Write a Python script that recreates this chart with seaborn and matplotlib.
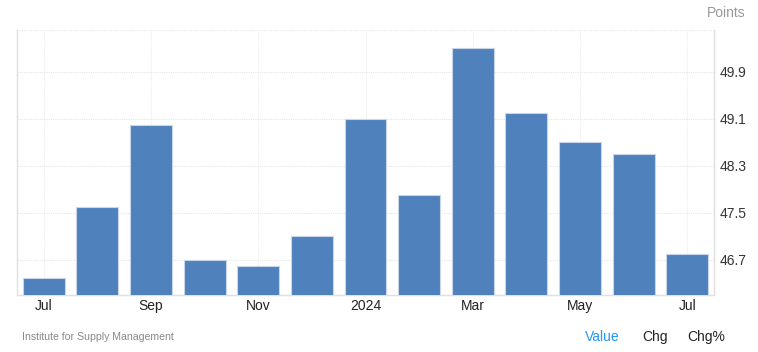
import matplotlib
matplotlib.use("Agg")
import matplotlib.pyplot as plt
import seaborn as sns
import pandas as pd

# Data
months = ["Jul 2023", "Aug 2023", "Sep 2023", "Oct 2023", "Nov 2023", "Dec 2023",
          "Jan 2024", "Feb 2024", "Mar 2024", "Apr 2024", "May 2024", "Jun 2024", "Jul 2024"]
values = [46.4, 47.6, 49.0, 46.7, 46.6, 47.1, 49.1, 47.8, 50.3, 49.2, 48.7, 48.5, 46.8]
tick_labels = ["Jul", "", "Sep", "", "Nov", "", "2024", "", "Mar", "", "May", "", "Jul"]
y_ticks = [46.7, 47.5, 48.3, 49.1, 49.9]


def main():
    df = pd.DataFrame({"month": months, "value": values})

    sns.set_style("white")
    plt.rcParams["font.family"] = ["Liberation Sans", "DejaVu Sans"]

    fig = plt.figure(figsize=(7.58, 3.52), dpi=100)
    ax = fig.add_axes([0.0224, 0.162, 0.9196, 0.753])

    sns.barplot(data=df, x="month", y="value", ax=ax, color="#4f81bd",
                saturation=1, width=0.78, edgecolor="#c9d6e8", linewidth=0.8, zorder=3)

    y_top = 50.61
    ax.set_ylim(46.105, y_top)
    ax.set_xlim(-0.5, len(months) - 0.5)

    # y axis on the right
    ax.yaxis.tick_right()
    ax.set_yticks(y_ticks)
    ax.set_yticklabels([f"{v:.1f}" for v in y_ticks])
    ax.tick_params(axis="y", length=0, pad=4, labelsize=10, labelcolor="#333333")

    # x ticks every other month
    ax.set_xticks(range(len(months)))
    ax.set_xticklabels(tick_labels)
    ax.tick_params(axis="x", length=0, pad=3, labelsize=10, labelcolor="#222222")
    ax.set_xlabel("")
    ax.set_ylabel("")

    # grid: horizontal at y ticks, vertical only at labelled months
    ax.grid(axis="y", color="#e6e6e6", linestyle=(0, (1, 1)), linewidth=0.8, zorder=0)
    for i, lab in enumerate(tick_labels):
        if lab:
            ax.axvline(i, color="#ececec", linestyle=(0, (1, 1)), linewidth=0.8, zorder=0)
    ax.axhline(y_top, color="#e6e6e6", linestyle=(0, (1, 1)), linewidth=0.8, zorder=0)

    ax.spines["top"].set_visible(False)
    for side in ["left", "right", "bottom"]:
        ax.spines[side].set_color("#e0e0e0")
        ax.spines[side].set_linewidth(1.0)

    # text around the chart
    fig.text(0.983, 0.963, "Points", ha="right", va="center", fontsize=10, color="#999999")
    fig.text(0.029, 0.043, "Institute for Supply Management", ha="left", va="center",
             fontsize=7.6, color="#888888")
    fig.text(0.795, 0.043, "Value", ha="center", va="center", fontsize=10, color="#2196f3")
    fig.text(0.864, 0.043, "Chg", ha="center", va="center", fontsize=10, color="#222222")
    fig.text(0.931, 0.043, "Chg%", ha="center", va="center", fontsize=10, color="#222222")

    fig.savefig("out.png", dpi=100)


if __name__ == "__main__":
    main()
